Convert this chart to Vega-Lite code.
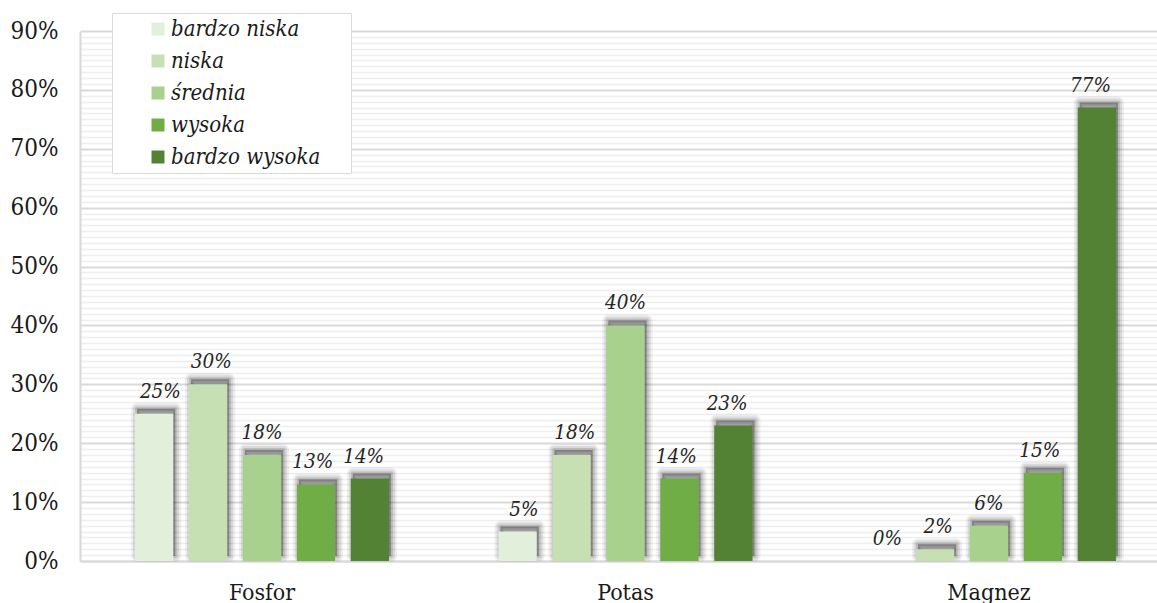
{
  "$schema": "https://vega.github.io/schema/vega-lite/v6.json",
  "width": 1077,
  "height": 530,
  "autosize": {"type": "none"},
  "padding": {"left": 80, "top": 31, "right": 0, "bottom": 42},
  "background": "white",
  "data": {
    "values": [
      {"kat": "Fosfor", "klasa": "bardzo niska", "v": 0.25},
      {"kat": "Fosfor", "klasa": "niska", "v": 0.30},
      {"kat": "Fosfor", "klasa": "średnia", "v": 0.18},
      {"kat": "Fosfor", "klasa": "wysoka", "v": 0.13},
      {"kat": "Fosfor", "klasa": "bardzo wysoka", "v": 0.14},
      {"kat": "Potas", "klasa": "bardzo niska", "v": 0.05},
      {"kat": "Potas", "klasa": "niska", "v": 0.18},
      {"kat": "Potas", "klasa": "średnia", "v": 0.40},
      {"kat": "Potas", "klasa": "wysoka", "v": 0.14},
      {"kat": "Potas", "klasa": "bardzo wysoka", "v": 0.23},
      {"kat": "Magnez", "klasa": "bardzo niska", "v": 0.00},
      {"kat": "Magnez", "klasa": "niska", "v": 0.02},
      {"kat": "Magnez", "klasa": "średnia", "v": 0.06},
      {"kat": "Magnez", "klasa": "wysoka", "v": 0.15},
      {"kat": "Magnez", "klasa": "bardzo wysoka", "v": 0.77}
    ]
  },
  "encoding": {
    "x": {
      "field": "kat", "type": "nominal", "title": null,
      "sort": ["Fosfor", "Potas", "Magnez"],
      "scale": {"paddingInner": 0.301, "paddingOuter": 0.132, "align": 0.573}
    }
  },
  "layer": [
    {
      "transform": [{"filter": "datum.v > 0"}],
      "mark": {"type": "bar", "fill": "#000", "fillOpacity": 0.09, "stroke": "#000", "strokeWidth": 12, "strokeOpacity": 0.06, "strokeJoin": "round", "yOffset": -5},
      "encoding": {
        "xOffset": {
          "field": "klasa", "type": "nominal",
          "sort": ["bardzo niska", "niska", "średnia", "wysoka", "bardzo wysoka"],
          "scale": {"paddingInner": 0.29, "paddingOuter": 0, "range": [2, 256.07]}
        },
        "y": {
          "field": "v", "type": "quantitative", "title": null,
          "scale": {"domain": [0, 0.9], "nice": false},
          "axis": {
            "orient": "right", "labels": false, "ticks": false, "domain": false, "title": null,
            "grid": true, "gridColor": "#eeeeee", "gridWidth": 1.5,
            "values": [0.01,0.02,0.03,0.04,0.05,0.06,0.07,0.08,0.09,0.11,0.12,0.13,0.14,0.15,0.16,0.17,0.18,0.19,0.21,0.22,0.23,0.24,0.25,0.26,0.27,0.28,0.29,0.31,0.32,0.33,0.34,0.35,0.36,0.37,0.38,0.39,0.41,0.42,0.43,0.44,0.45,0.46,0.47,0.48,0.49,0.51,0.52,0.53,0.54,0.55,0.56,0.57,0.58,0.59,0.61,0.62,0.63,0.64,0.65,0.66,0.67,0.68,0.69,0.71,0.72,0.73,0.74,0.75,0.76,0.77,0.78,0.79,0.81,0.82,0.83,0.84,0.85,0.86,0.87,0.88,0.89]
          }
        }
      }
    },
    {
      "transform": [{"filter": "datum.v > 0"}],
      "mark": {"type": "bar", "fill": "#000", "fillOpacity": 0.11, "stroke": "#000", "strokeWidth": 8, "strokeOpacity": 0.09, "strokeJoin": "round", "yOffset": -5},
      "encoding": {
        "xOffset": {
          "field": "klasa", "type": "nominal",
          "sort": ["bardzo niska", "niska", "średnia", "wysoka", "bardzo wysoka"],
          "scale": {"paddingInner": 0.29, "paddingOuter": 0, "range": [2, 256.07]}
        },
        "y": {"field": "v", "type": "quantitative", "axis": null, "scale": {"domain": [0, 0.9], "nice": false}}
      }
    },
    {
      "transform": [{"filter": "datum.v > 0"}],
      "mark": {"type": "bar", "fill": "#000", "fillOpacity": 0.14, "stroke": "#000", "strokeWidth": 4, "strokeOpacity": 0.12, "strokeJoin": "round", "yOffset": -5},
      "encoding": {
        "xOffset": {
          "field": "klasa", "type": "nominal",
          "sort": ["bardzo niska", "niska", "średnia", "wysoka", "bardzo wysoka"],
          "scale": {"paddingInner": 0.29, "paddingOuter": 0, "range": [2, 256.07]}
        },
        "y": {"field": "v", "type": "quantitative", "axis": null, "scale": {"domain": [0, 0.9], "nice": false}}
      }
    },
    {
      "mark": {"type": "bar"},
      "encoding": {
        "xOffset": {
          "field": "klasa", "type": "nominal",
          "sort": ["bardzo niska", "niska", "średnia", "wysoka", "bardzo wysoka"]
        },
        "y": {
          "field": "v", "type": "quantitative", "title": null,
          "scale": {"domain": [0, 0.9], "nice": false},
          "axis": {
            "orient": "left", "values": [0,0.1,0.2,0.3,0.4,0.5,0.6,0.7,0.8,0.9], "format": ".0%",
            "grid": true, "gridColor": "#d9d9d9", "gridWidth": 2,
            "domain": true, "domainColor": "#d9d9d9", "domainWidth": 2,
            "ticks": false, "tickSize": 0, "labelPadding": 22,
            "labelFont": "DejaVu Serif Condensed", "labelFontSize": 24, "labelColor": "#1a1a1a", "title": null
          }
        },
        "color": {
          "field": "klasa", "type": "nominal",
          "scale": {
            "domain": ["bardzo niska", "niska", "średnia", "wysoka", "bardzo wysoka"],
            "range": ["#E2EFDA", "#C6E0B4", "#A9D18E", "#70AD47", "#548235"]
          },
          "legend": {
            "title": null,
            "orient": "none", "legendX": 32, "legendY": -18,
            "symbolType": "square", "symbolSize": 169, "symbolStrokeWidth": 0, "symbolOffset": 30,
            "labelFont": "DejaVu Serif Condensed", "labelFontStyle": "italic", "labelFontSize": 22, "labelColor": "#1a1a1a",
            "labelOffset": 2, "rowPadding": 10, "padding": 5, "labelLimit": 400,
            "strokeColor": "#d9d9d9", "fillColor": "white",
            "labelExpr": "datum.label + '\u00a0\u00a0\u00a0\u00a0\u200b'"
          }
        }
      }
    },
    {
      "mark": {"type": "text", "font": "DejaVu Serif Condensed", "fontStyle": "italic", "fontSize": 20.5, "color": "#262626", "baseline": "alphabetic", "dy": -16},
      "encoding": {
        "xOffset": {"field": "klasa", "type": "nominal", "sort": ["bardzo niska", "niska", "średnia", "wysoka", "bardzo wysoka"]},
        "y": {"field": "v", "type": "quantitative", "axis": null, "scale": {"domain": [0, 0.9], "nice": false}},
        "text": {"field": "v", "type": "quantitative", "format": ".0%"}
      }
    }
  ],
  "resolve": {"axis": {"y": "independent"}, "scale": {"xOffset": "independent"}},
  "config": {
    "view": {"stroke": null},
    "scale": {"offsetBandPaddingInner": 0.29, "offsetBandPaddingOuter": 0},
    "axisX": {
      "labelFont": "DejaVu Serif Condensed", "labelFontSize": 23, "labelColor": "#1a1a1a", "labelAngle": 0,
      "ticks": false, "tickSize": 0, "domainColor": "#d9d9d9", "domainWidth": 2,
      "labelPadding": 38, "labelBaseline": "alphabetic", "grid": false
    }
  }
}
